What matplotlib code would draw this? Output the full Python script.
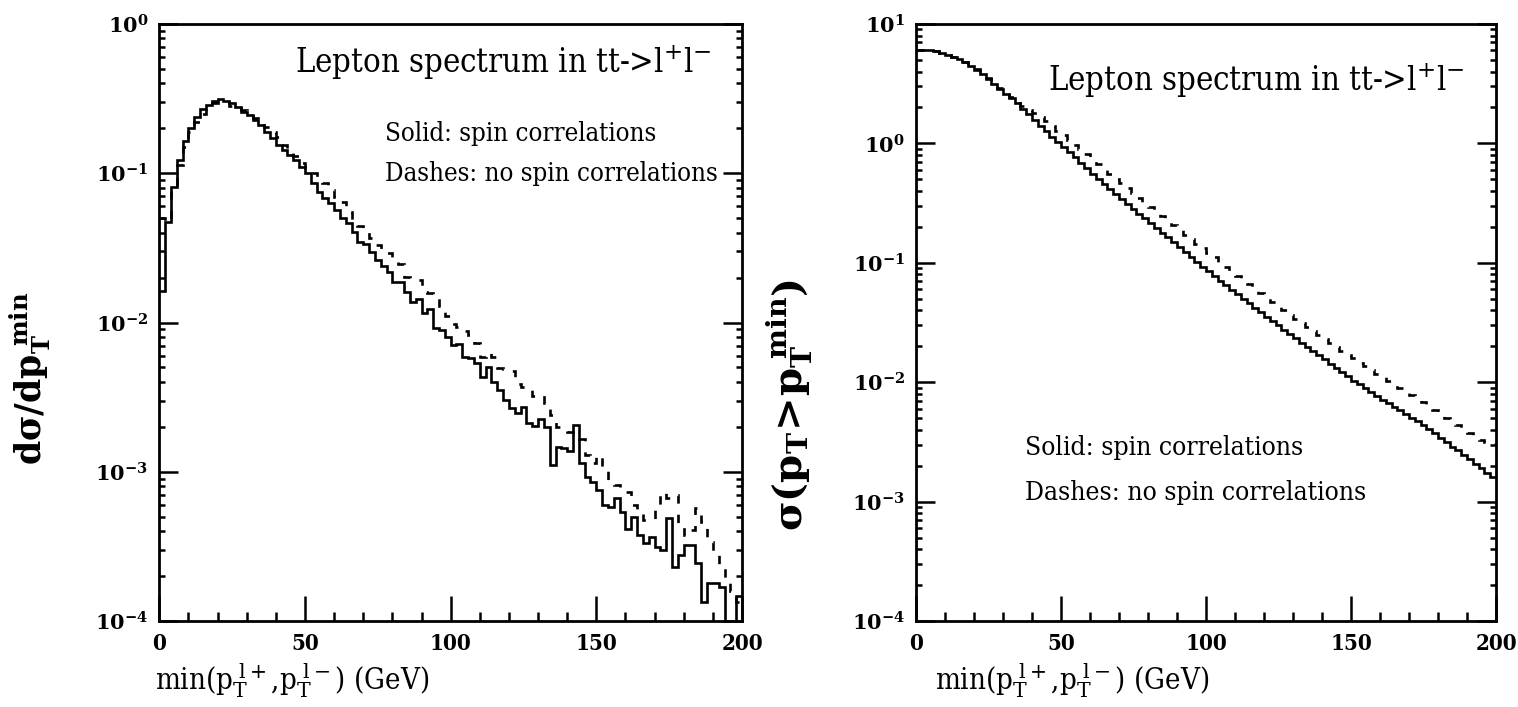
import matplotlib
matplotlib.use("Agg")
import matplotlib.pyplot as plt
import numpy as np
from matplotlib.ticker import FixedLocator, FixedFormatter, MultipleLocator, NullFormatter

# ---------------- data ----------------
bin_edges = list(range(0, 202, 2))  # GeV, 100 bins of 2 GeV

# left panel: dsigma/dpT(min)
left_solid = [0.0163, 0.0474, 0.0813, 0.1227, 0.1645, 0.2001, 0.2393, 0.2682, 0.2867, 0.3062,
              0.3129, 0.3062, 0.2970, 0.2791, 0.2585, 0.2456, 0.2274, 0.2105, 0.1899, 0.1715,
              0.1546, 0.1431, 0.1325, 0.1227, 0.1096, 0.0999, 0.0865, 0.0752, 0.0680, 0.0635,
              0.0567, 0.0499, 0.0462, 0.0406, 0.0348, 0.0336, 0.0298, 0.0262, 0.0239, 0.0219,
              0.0188, 0.0188, 0.0161, 0.0138, 0.0143, 0.0116, 0.0123, 0.00914, 0.00891, 0.00803,
              0.00707, 0.00718, 0.00585, 0.00576, 0.00538, 0.00433, 0.00506, 0.00401, 0.00353, 0.00303,
              0.00266, 0.00249, 0.00270, 0.00211, 0.00203, 0.00225, 0.00200, 0.00111, 0.00147, 0.00144,
              0.00138, 0.00206, 0.00115, 0.000926, 0.000858, 0.000755, 0.000599, 0.000578, 0.000664, 0.000537,
              0.000413, 0.000500, 0.000374, 0.000333, 0.000367, 0.000313, 0.000301, 0.000490, 0.000230, 0.000277,
              0.000323, 0.000323, 0.000243, 0.000135, 0.000179, 0.000180, 0.000170, 0.0, 0.0, 0.000146]

left_dashed = [0.0501, 0.0471, 0.0796, 0.1136, 0.1506, 0.1899, 0.2205, 0.2495, 0.2791, 0.2956,
               0.3048, 0.3001, 0.2822, 0.2724, 0.2633, 0.2495, 0.2346, 0.2205, 0.2041, 0.1890,
               0.1736, 0.1546, 0.1431, 0.1305, 0.1166, 0.1084, 0.1004, 0.0934, 0.0857, 0.0772,
               0.0697, 0.0645, 0.0553, 0.0462, 0.0443, 0.0417, 0.0368, 0.0331, 0.0294, 0.0294,
               0.0270, 0.0245, 0.0203, 0.0199, 0.0193, 0.0161, 0.0158, 0.0153, 0.0128, 0.0111,
               0.00977, 0.00933, 0.00881, 0.00825, 0.00725, 0.00590, 0.00634, 0.00590, 0.00493, 0.00488,
               0.00475, 0.00387, 0.00371, 0.00371, 0.00322, 0.00327, 0.00287, 0.00240, 0.00200, 0.00195,
               0.00185, 0.00176, 0.00165, 0.00130, 0.00114, 0.00130, 0.00105, 0.000881, 0.000815, 0.000731,
               0.000731, 0.000599, 0.000537, 0.000475, 0.000475, 0.000569, 0.000735, 0.000667, 0.000699, 0.000433,
               0.000377, 0.000407, 0.000569, 0.000463, 0.000340, 0.000284, 0.000237, 0.000188, 0.000160, 0.000135]

# right panel: sigma(pT > pT(min))
right_solid = [6.05, 6.04, 6.00, 5.90, 5.77, 5.52, 5.31, 5.06, 4.77, 4.46,
               4.15, 3.81, 3.46, 3.14, 2.86, 2.61, 2.39, 2.16, 1.95, 1.76,
               1.57, 1.41, 1.26, 1.14, 1.03, 0.934, 0.845, 0.762, 0.688, 0.620,
               0.559, 0.502, 0.455, 0.414, 0.375, 0.341, 0.311, 0.283, 0.258, 0.235,
               0.214, 0.196, 0.179, 0.163, 0.149, 0.136, 0.124, 0.112, 0.102, 0.0931,
               0.0849, 0.0774, 0.0704, 0.0646, 0.0593, 0.0544, 0.0499, 0.0458, 0.0421, 0.0387,
               0.0355, 0.0326, 0.0300, 0.0274, 0.0252, 0.0233, 0.0215, 0.0198, 0.0182, 0.0168,
               0.0155, 0.0143, 0.0132, 0.0122, 0.0112, 0.0103, 0.00957, 0.00886, 0.00824, 0.00767,
               0.00714, 0.00666, 0.00621, 0.00580, 0.00541, 0.00504, 0.00469, 0.00434, 0.00402, 0.00372,
               0.00341, 0.00313, 0.00289, 0.00268, 0.00245, 0.00226, 0.00207, 0.00191, 0.00175, 0.00160]

right_dashed = [6.05, 6.04, 6.00, 5.90, 5.77, 5.53, 5.32, 5.07, 4.79, 4.49,
                4.19, 3.85, 3.51, 3.21, 2.93, 2.69, 2.46, 2.25, 2.07, 1.92,
                1.78, 1.65, 1.53, 1.40, 1.28, 1.17, 1.065, 0.974, 0.892, 0.813,
                0.738, 0.670, 0.610, 0.557, 0.507, 0.462, 0.421, 0.384, 0.351, 0.321,
                0.294, 0.269, 0.246, 0.225, 0.206, 0.188, 0.172, 0.158, 0.144, 0.132,
                0.121, 0.111, 0.101, 0.0929, 0.0852, 0.0782, 0.0719, 0.0660, 0.0606, 0.0557,
                0.0512, 0.0471, 0.0433, 0.0399, 0.0368, 0.0339, 0.0313, 0.0289, 0.0267, 0.0247,
                0.0229, 0.0212, 0.0197, 0.0182, 0.0170, 0.0158, 0.0146, 0.0136, 0.0127, 0.0118,
                0.0110, 0.0103, 0.00963, 0.00900, 0.00841, 0.00785, 0.00731, 0.00679, 0.00631, 0.00586,
                0.00545, 0.00506, 0.00471, 0.00437, 0.00406, 0.00377, 0.00351, 0.00327, 0.00313, 0.00301]

x_ticks = [0, 50, 100, 150, 200]
left_decades = [-4, -3, -2, -1, 0]
right_decades = [-4, -3, -2, -1, 0, 1]

title_text = r"Lepton spectrum in tt->l$^{+}$l$^{-}$"
solid_text = "Solid: spin correlations"
dash_text = "Dashes: no spin correlations"
xlabel_text = r"min(p$_{\rm T}^{\ \rm l+}$,p$_{\rm T}^{\ \rm l-}$) (GeV)"
left_ylabel = r"$\mathbf{d\sigma/dp_T^{\ min}}$"
right_ylabel = r"$\mathbf{\sigma(p_T\!>\!p_T^{\ min})}$"

# ---------------- style ----------------
plt.rcParams["font.family"] = ["DejaVu Serif"]
plt.rcParams["mathtext.fontset"] = "dejavuserif"
plt.rcParams["lines.scale_dashes"] = False

SERIF = dict(family="DejaVu Serif", stretch="condensed")

fig = plt.figure(figsize=(15.18, 7.07), dpi=100)
ax1 = fig.add_axes([159.3 / 1518, 1 - 621 / 707, 582.7 / 1518, 597 / 707])
ax2 = fig.add_axes([916 / 1518, 1 - 621 / 707, 580 / 1518, 597 / 707])

lw = 1.9
dash = (0, (6, 8))

for ax, solid, dashed, decs in ((ax1, left_solid, left_dashed, left_decades),
                                 (ax2, right_solid, right_dashed, right_decades)):
    ax.stairs(solid, bin_edges, baseline=None, color="black", lw=lw)
    ax.stairs(dashed, bin_edges, baseline=None, color="black", lw=lw, linestyle=dash)
    ax.set_yscale("log", nonpositive="clip")
    ax.set_xlim(0, 200)
    ax.set_ylim(10.0 ** decs[0], 10.0 ** decs[-1])
    for s in ax.spines.values():
        s.set_linewidth(2.0)
    ax.xaxis.set_major_locator(FixedLocator(x_ticks))
    ax.xaxis.set_minor_locator(MultipleLocator(10))
    ax.set_xticklabels([str(v) for v in x_ticks])
    ax.yaxis.set_major_locator(FixedLocator([10.0 ** d for d in decs]))
    ax.yaxis.set_major_formatter(FixedFormatter([r"$\mathbf{10^{%d}}$" % d for d in decs]))
    minors = [m * 10.0 ** d for d in decs[:-1] for m in range(2, 10)]
    ax.yaxis.set_minor_locator(FixedLocator(minors))
    ax.yaxis.set_minor_formatter(NullFormatter())
    ax.tick_params(axis="both", which="both", direction="in", width=1.8, colors="black")
    ax.tick_params(axis="x", which="major", length=18, labelsize=16, pad=9)
    ax.tick_params(axis="x", which="minor", length=6.5)
    ax.tick_params(axis="y", which="major", length=13.5, labelsize=15, pad=8, right=True)
    ax.tick_params(axis="y", which="minor", length=4.5, right=True)
    for lab in ax.get_xticklabels():
        lab.set_fontweight("bold")
        lab.set_fontstretch("condensed")

# texts left
ax1.text(0.233, 0.935, title_text, transform=ax1.transAxes, fontsize=23.5, ha="left", va="center", **SERIF)
ax1.text(0.388, 0.817, solid_text, transform=ax1.transAxes, fontsize=18.5, ha="left", va="center", **SERIF)
ax1.text(0.388, 0.750, dash_text, transform=ax1.transAxes, fontsize=18.5, ha="left", va="center", **SERIF)
# texts right
ax2.text(0.228, 0.905, title_text, transform=ax2.transAxes, fontsize=23.5, ha="left", va="center", **SERIF)
ax2.text(0.188, 0.29, solid_text, transform=ax2.transAxes, fontsize=19, ha="left", va="center", **SERIF)
ax2.text(0.188, 0.215, dash_text, transform=ax2.transAxes, fontsize=19, ha="left", va="center", **SERIF)

for ax, xl in ((ax1, 155), (ax2, 935)):
    fig.text(xl / 1518, 1 - 681 / 707, xlabel_text, fontsize=21, ha="left", va="center", **SERIF)

fig.text(30 / 1518, 1 - 378 / 707, left_ylabel, fontsize=25, rotation=90, ha="center", va="center")
fig.text(790 / 1518, 1 - 405 / 707, right_ylabel, fontsize=29, rotation=90, ha="center", va="center")

fig.savefig("out.png", dpi=100)
